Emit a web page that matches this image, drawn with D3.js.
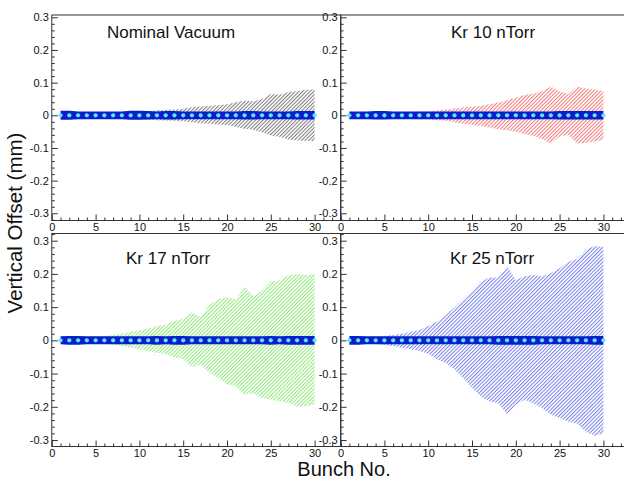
<!DOCTYPE html>
<html>
<head>
<meta charset="utf-8">
<script src="https://cdn.jsdelivr.net/npm/d3@7"></script>
<style>
  body { margin: 0; background: #fff; }
  text { font-family: "Liberation Sans", Arial, Helvetica, sans-serif; fill: #111; }
</style>
</head>
<body>
<script>
// bunch numbers along the train
const bunches = d3.range(1, 31);

// panel titles
const titles = ["Nominal Vacuum", "Kr 10 nTorr", "Kr 17 nTorr", "Kr 25 nTorr"];

// upper / lower edge of the hatched spread (mm), one value per bunch
const nominalHi = [0.004,0.005,0.006,0.006,0.007,0.008,0.009,0.010,0.011,0.012,0.013,0.015,0.017,0.018,0.021,0.025,0.027,0.029,0.031,0.034,0.040,0.045,0.043,0.050,0.065,0.063,0.071,0.074,0.078,0.080];
const nominalLo = [-0.004,-0.005,-0.006,-0.006,-0.007,-0.008,-0.009,-0.010,-0.011,-0.012,-0.013,-0.015,-0.016,-0.017,-0.018,-0.021,-0.024,-0.026,-0.028,-0.030,-0.036,-0.041,-0.044,-0.052,-0.062,-0.066,-0.074,-0.077,-0.079,-0.079];

const kr10Hi = [0.004,0.005,0.006,0.007,0.008,0.009,0.010,0.011,0.012,0.012,0.015,0.018,0.021,0.025,0.026,0.029,0.034,0.039,0.046,0.054,0.062,0.066,0.074,0.088,0.072,0.066,0.088,0.082,0.078,0.074];
const kr10Lo = [-0.004,-0.005,-0.006,-0.007,-0.008,-0.009,-0.010,-0.011,-0.012,-0.012,-0.015,-0.017,-0.022,-0.026,-0.029,-0.033,-0.037,-0.043,-0.046,-0.050,-0.058,-0.063,-0.073,-0.086,-0.065,-0.060,-0.086,-0.084,-0.080,-0.075];

const kr17Hi = [0.006,0.008,0.009,0.010,0.012,0.013,0.016,0.020,0.026,0.030,0.036,0.043,0.048,0.058,0.066,0.084,0.070,0.107,0.124,0.130,0.124,0.160,0.134,0.150,0.178,0.180,0.195,0.200,0.197,0.200];
const kr17Lo = [-0.005,-0.006,-0.007,-0.008,-0.009,-0.010,-0.014,-0.017,-0.022,-0.027,-0.032,-0.037,-0.042,-0.052,-0.057,-0.080,-0.073,-0.098,-0.113,-0.133,-0.138,-0.164,-0.160,-0.174,-0.178,-0.184,-0.188,-0.200,-0.198,-0.194];

const kr25Hi = [0.005,0.007,0.009,0.011,0.013,0.016,0.020,0.025,0.031,0.043,0.056,0.076,0.099,0.124,0.149,0.177,0.189,0.189,0.224,0.182,0.193,0.197,0.192,0.202,0.217,0.237,0.245,0.272,0.285,0.281];
const kr25Lo = [-0.005,-0.007,-0.009,-0.011,-0.014,-0.017,-0.022,-0.027,-0.032,-0.040,-0.058,-0.068,-0.088,-0.113,-0.143,-0.169,-0.184,-0.189,-0.222,-0.194,-0.179,-0.189,-0.204,-0.224,-0.234,-0.244,-0.250,-0.275,-0.287,-0.280];

// half width of the dark core band (mm)
const nominalCore = [0.014,0.014,0.012,0.012,0.012,0.012,0.012,0.012,0.014,0.014,0.013,0.012,0.013,0.013,0.012,0.012,0.012,0.012,0.012,0.012,0.012,0.013,0.013,0.012,0.012,0.012,0.012,0.013,0.013,0.013];
const kr10Core = [0.012,0.012,0.012,0.013,0.013,0.012,0.012,0.012,0.012,0.012,0.012,0.012,0.012,0.012,0.012,0.012,0.012,0.012,0.012,0.012,0.012,0.012,0.012,0.012,0.013,0.013,0.013,0.013,0.013,0.013];
const kr17Core = [0.012,0.013,0.013,0.012,0.012,0.012,0.012,0.012,0.012,0.012,0.012,0.013,0.012,0.013,0.013,0.012,0.012,0.012,0.012,0.012,0.012,0.012,0.012,0.012,0.013,0.012,0.013,0.013,0.013,0.013];
const kr25Core = [0.013,0.013,0.012,0.012,0.012,0.012,0.012,0.012,0.012,0.012,0.012,0.012,0.012,0.012,0.012,0.012,0.012,0.013,0.013,0.013,0.013,0.013,0.012,0.012,0.012,0.012,0.012,0.012,0.013,0.013];

// axis ticks
const xMajor = [0, 5, 10, 15, 20, 25, 30];
const yMajor = [-0.3, -0.2, -0.1, 0, 0.1, 0.2, 0.3];

const width = 624, height = 479;

const svg = d3.select("body").append("svg")
    .attr("width", width)
    .attr("height", height);

const hatchColors = ["#7a7a7a", "#f27878", "#8fe67c", "#7680ea"];
const defs = svg.append("defs");
hatchColors.forEach((c, i) => {
  const p = defs.append("pattern")
      .attr("id", "hatch" + i)
      .attr("patternUnits", "userSpaceOnUse")
      .attr("width", 2.6).attr("height", 10)
      .attr("patternTransform", "rotate(45)");
  p.append("rect")
      .attr("x", 0).attr("y", 0)
      .attr("width", 1).attr("height", 10)
      .attr("fill", c);
});

const panels = [
  {title: titles[0], hi: nominalHi, lo: nominalLo, core: nominalCore, col: 0, row: 0, tx: 171},
  {title: titles[1], hi: kr10Hi, lo: kr10Lo, core: kr10Core, col: 1, row: 0, tx: 493},
  {title: titles[2], hi: kr17Hi, lo: kr17Lo, core: kr17Core, col: 0, row: 1, tx: 168},
  {title: titles[3], hi: kr25Hi, lo: kr25Lo, core: kr25Core, col: 1, row: 1, tx: 492}
];

const cols = [51.8, 340.6];
const rows = [
  {range: [213.3, 17.3], top: 15, bottom: 220.5, titleY: 38},
  {range: [440, 240.7], top: 233.5, bottom: 446.5, titleY: 264}
];
const pxPerBunch = 8.76;
const xMax = 33;

const fmt = d => String(Math.round(d * 10) / 10);

panels.forEach((p, i) => {
  const r = rows[p.row];
  const x0 = cols[p.col];
  const x = d3.scaleLinear().domain([0, xMax]).range([x0, x0 + xMax * pxPerBunch]);
  const y = d3.scaleLinear().domain([-0.3, 0.3]).range(r.range);

  const g = svg.append("g");

  const clipId = "clip" + i;
  defs.append("clipPath").attr("id", clipId)
    .append("rect")
      .attr("x", x0).attr("y", r.top)
      .attr("width", xMax * pxPerBunch).attr("height", r.bottom - r.top);

  const data = bunches.map((b, k) => ({b, hi: p.hi[k], lo: p.lo[k], core: p.core[k]}));

  const plot = g.append("g").attr("clip-path", `url(#${clipId})`);

  // hatched spread
  plot.append("path")
      .datum(data)
      .attr("fill", `url(#hatch${i})`)
      .attr("d", d3.area().x(d => x(d.b)).y0(d => y(d.lo)).y1(d => y(d.hi)));

  // dark blue core band
  plot.append("path")
      .datum(data)
      .attr("fill", "#0b1ecc")
      .attr("d", d3.area().x(d => x(d.b)).y0(d => y(-d.core)).y1(d => y(d.core)));

  // markers
  plot.selectAll("circle")
      .data(data)
      .join("circle")
      .attr("cx", d => x(d.b))
      .attr("cy", y(0))
      .attr("r", 2.1)
      .attr("fill", "#58e8ff");

  // frame
  g.append("rect")
      .attr("x", x0).attr("y", r.top)
      .attr("width", xMax * pxPerBunch).attr("height", r.bottom - r.top)
      .attr("fill", "none").attr("stroke", "#333").attr("stroke-width", 1);

  // y axis
  const yMinor = d3.range(-0.32, 0.321, 0.02).map(v => Math.round(v * 100) / 100)
      .filter(v => Math.round(v * 100) % 10 !== 0 && y(v) >= r.top && y(v) <= r.bottom);
  const ya = g.append("g").attr("transform", `translate(${x0},0)`)
      .call(d3.axisLeft(y).tickValues(yMajor).tickSize(-6).tickPadding(3).tickFormat(fmt));
  const yb = g.append("g").attr("transform", `translate(${x0},0)`)
      .call(d3.axisLeft(y).tickValues(yMinor).tickSize(-3).tickFormat(""));

  // x axis
  const xMinor = d3.range(1, xMax + 1).filter(v => v % 5 !== 0);
  const xa = g.append("g").attr("transform", `translate(0,${r.bottom})`)
      .call(d3.axisBottom(x).tickValues(xMajor).tickSize(-6).tickPadding(3));
  const xb = g.append("g").attr("transform", `translate(0,${r.bottom})`)
      .call(d3.axisBottom(x).tickValues(xMinor).tickSize(-3).tickFormat(""));

  [ya, yb, xa, xb].forEach(a => {
    a.select(".domain").remove();
    a.selectAll("line").attr("stroke", "#333");
    a.selectAll("text").attr("font-size", 11).attr("fill", "#111")
      .attr("font-family", "'Liberation Sans', Arial, Helvetica, sans-serif");
  });

  // title
  g.append("text")
      .attr("x", p.tx).attr("y", r.titleY)
      .attr("text-anchor", "middle")
      .attr("font-size", 17)
      .text(p.title);
});

// axis titles
svg.append("text")
    .attr("transform", "translate(22,223) rotate(-90)")
    .attr("text-anchor", "middle")
    .attr("font-size", 20.5)
    .text("Vertical Offset (mm)");

svg.append("text")
    .attr("x", 344).attr("y", 476)
    .attr("text-anchor", "middle")
    .attr("font-size", 20)
    .text("Bunch No.");
</script>
</body>
</html>
